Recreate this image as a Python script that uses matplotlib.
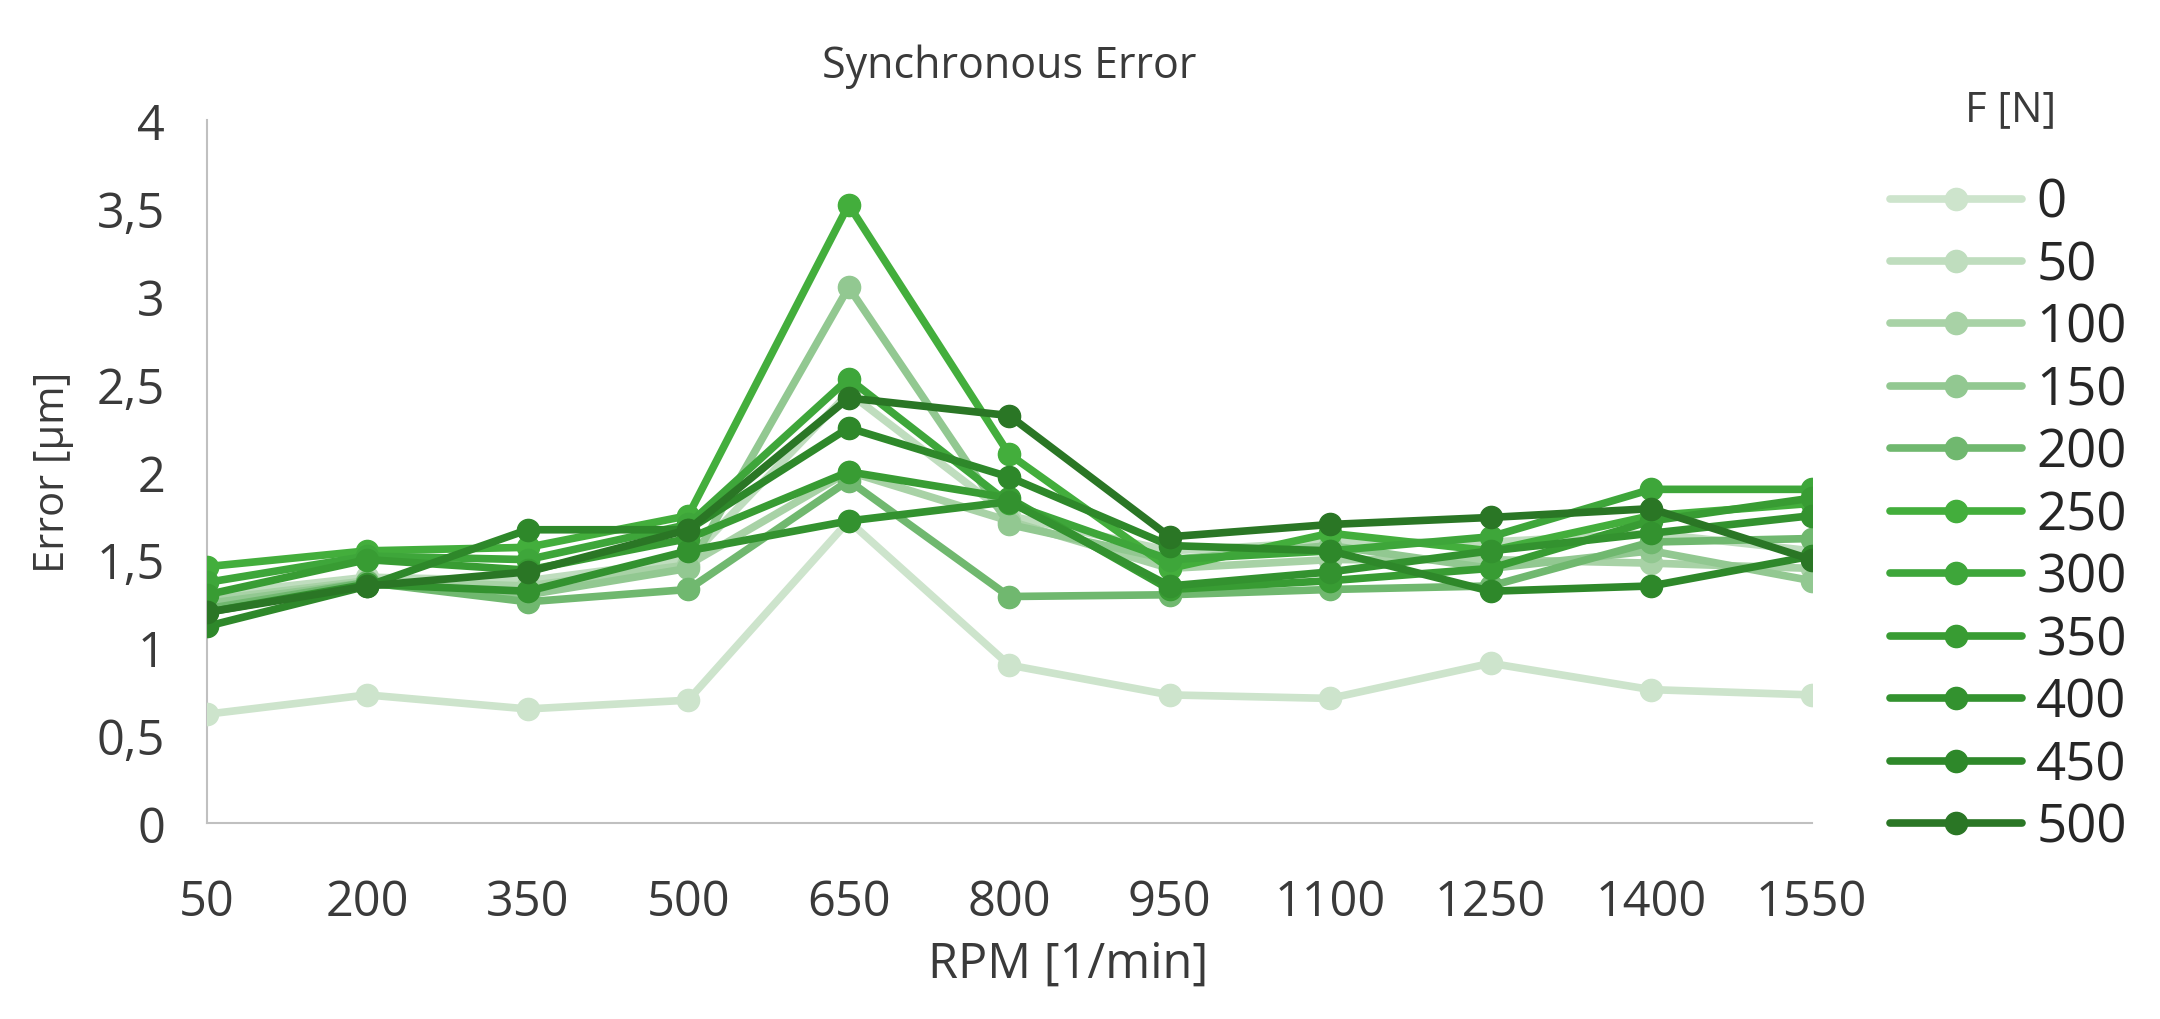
import matplotlib

matplotlib.use("Agg")
import matplotlib.pyplot as plt

plt.rcParams["font.family"] = ["Open Sans", "DejaVu Sans"]

rpm = ["50", "200", "350", "500", "650", "800", "950", "1100", "1250", "1400", "1550"]
forces = ["0", "50", "100", "150", "200", "250", "300", "350", "400", "450", "500"]

err_0 = [0.62, 0.73, 0.65, 0.70, 1.72, 0.90, 0.73, 0.71, 0.91, 0.76, 0.73]
err_50 = [1.30, 1.40, 1.38, 1.50, 2.45, 1.75, 1.55, 1.60, 1.60, 1.65, 1.55]
err_100 = [1.27, 1.38, 1.35, 1.47, 2.00, 1.72, 1.45, 1.50, 1.50, 1.48, 1.45]
err_150 = [1.25, 1.37, 1.30, 1.45, 3.05, 1.70, 1.50, 1.58, 1.45, 1.55, 1.38]
err_200 = [1.22, 1.37, 1.26, 1.33, 1.95, 1.29, 1.30, 1.33, 1.35, 1.60, 1.62]
err_250 = [1.46, 1.55, 1.57, 1.75, 3.52, 2.10, 1.45, 1.65, 1.55, 1.75, 1.82]
err_300 = [1.37, 1.52, 1.50, 1.70, 2.53, 1.82, 1.50, 1.55, 1.63, 1.90, 1.90]
err_350 = [1.30, 1.50, 1.44, 1.62, 2.00, 1.85, 1.33, 1.38, 1.45, 1.72, 1.85]
err_400 = [1.20, 1.36, 1.32, 1.55, 1.72, 1.83, 1.35, 1.43, 1.55, 1.65, 1.75]
err_450 = [1.12, 1.35, 1.67, 1.67, 2.25, 1.97, 1.58, 1.55, 1.32, 1.35, 1.52]
err_500 = [1.20, 1.35, 1.43, 1.67, 2.42, 2.32, 1.63, 1.70, 1.74, 1.79, 1.50]

series = [err_0, err_50, err_100, err_150, err_200, err_250,
          err_300, err_350, err_400, err_450, err_500]
colors = ["#cde4cc", "#bfddbe", "#a8d2a6", "#92c891", "#70b86f", "#43ae3c",
          "#3ea63a", "#389c33", "#33922f", "#2e882a", "#2a7625"]

yticks = [0, 0.5, 1, 1.5, 2, 2.5, 3, 3.5, 4]
ytick_labels = ["0", "0,5", "1", "1,5", "2", "2,5", "3", "3,5", "4"]

text_col = "#3a3a3a"

fig = plt.figure(figsize=(21.6, 10.2), dpi=100)
ax = fig.add_axes([0.0957, 0.192, 0.743, 0.689])

x = list(range(len(rpm)))
for vals, col, lab in zip(series, colors, forces):
    ax.plot(x, vals, color=col, linewidth=5.5, marker="o", markersize=16,
            solid_capstyle="round", label=lab)

ax.set_xlim(0, len(rpm) - 1)
ax.set_ylim(0, 4)
ax.set_xticks(x)
ax.set_xticklabels(rpm)
ax.set_yticks(yticks)
ax.set_yticklabels(ytick_labels)
ax.tick_params(length=0, labelsize=35, colors=text_col)
ax.tick_params(axis="x", pad=39)
ax.tick_params(axis="y", pad=30)
for side in ["top", "right"]:
    ax.spines[side].set_visible(False)
for side in ["left", "bottom"]:
    ax.spines[side].set_color("#c0c0c0")
    ax.spines[side].set_linewidth(1.5)
    ax.spines[side].set_zorder(0)

ax.set_title("Synchronous Error", fontsize=31, color=text_col, pad=31)
ax.set_xlabel("RPM [1/min]", fontsize=35, color=text_col)
ax.xaxis.set_label_coords(0.537, -0.165)
ax.set_ylabel("Error [µm]", fontsize=30, color=text_col, labelpad=16)

fig.text(2011 / 2160, 1 - 110 / 1020, "F [N]", fontsize=30, color=text_col,
         ha="center", va="center")
leg = fig.legend(loc="upper left", bbox_to_anchor=(0.875, 0.826), frameon=False,
                 fontsize=38, handlelength=2.5, labelspacing=0.17,
                 handletextpad=0.27, borderpad=0, borderaxespad=0)
for t in leg.get_texts():
    t.set_color("#262626")

fig.savefig("out.png", dpi=100)
